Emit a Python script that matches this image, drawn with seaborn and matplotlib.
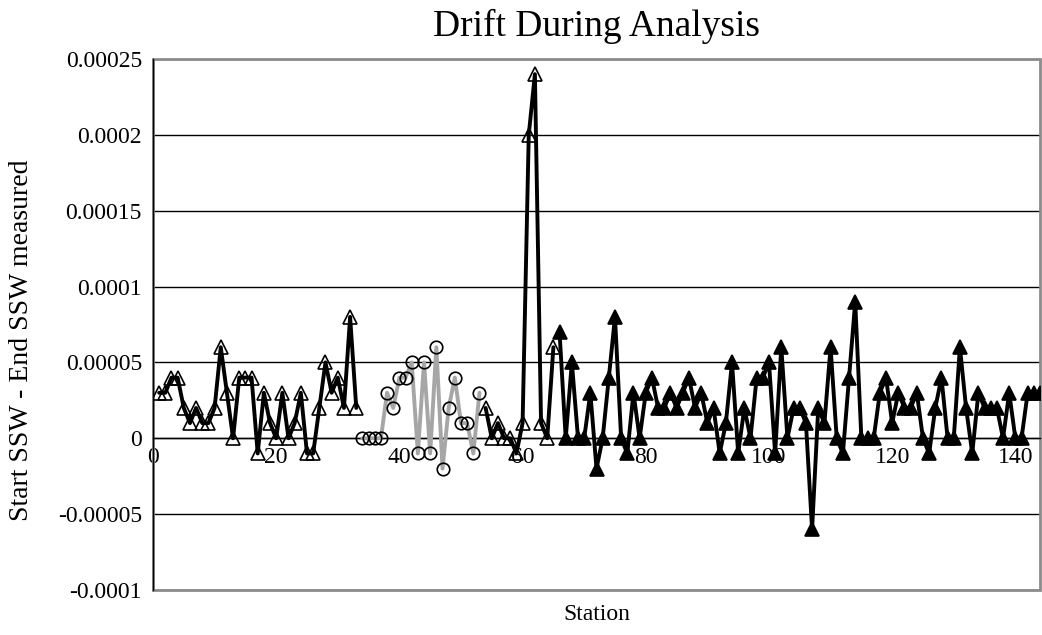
import matplotlib
matplotlib.use("Agg")
import matplotlib.pyplot as plt
import matplotlib.ticker as mticker
from matplotlib.patches import Rectangle
import pandas as pd
import seaborn as sns

# Drift readings (start SSW minus end SSW), in units of 1e-5
stations_a = list(range(1, 34))
drift_a = [3, 3, 4, 4, 2, 1, 2, 1, 1, 2, 6, 3, 0, 4, 4, 4, -1, 3, 1, 0,
           3, 0, 1, 3, -1, -1, 2, 5, 3, 4, 2, 8, 2]

stations_b = list(range(34, 54))
drift_b = [0, 0, 0, 0, 3, 2, 4, 4, 5, -1, 5, -1, 6, -2, 2, 4, 1, 1, -1, 3]

stations_c = list(range(54, 66))
drift_c = [2, 0, 1, 0, 0, -1, 1, 20, 24, 1, 0, 6]

stations_d = list(range(66, 145))
drift_d = [7, 0, 5, 0, 0, 3, -2, 0, 4, 8, 0, -1, 3, 0, 3, 4, 2, 2, 3, 2,
           3, 4, 2, 3, 1, 2, -1, 1, 5, -1, 2, 0, 4, 4, 5, -1, 6, 0, 2, 2,
           1, -6, 2, 1, 6, 0, -1, 4, 9, 0, 0, 0, 3, 4, 1, 3, 2, 2, 3, 0,
           -1, 2, 4, 0, 0, 6, 2, -1, 3, 2, 2, 2, 0, 3, 0, 0, 3, 3, 3]

x_ticks = [0, 20, 40, 60, 80, 100, 120, 140]
y_ticks = [-0.0001, -0.00005, 0, 0.00005, 0.0001, 0.00015, 0.0002, 0.00025]

SCALE = 1e-5


def frame(st, vals):
    return pd.DataFrame({"Station": st, "Drift": [v * SCALE for v in vals]})


sns.set_style("white")
plt.rcParams["font.family"] = ["Liberation Serif", "DejaVu Serif"]
plt.rcParams["text.color"] = "black"

W, H = 1042, 635
fig = plt.figure(figsize=(W / 100, H / 100), dpi=100)
left, right, top, bottom = 153, 1040, 59, 590
ax = fig.add_axes([left / W, 1 - bottom / H, (right - left) / W, (bottom - top) / H])

line_kw = dict(estimator=None, sort=False, ax=ax, legend=False)
LW, MS = 2.8, 10

# open triangles, first run
sns.lineplot(data=frame(stations_a, drift_a), x="Station", y="Drift",
             color="black", linewidth=LW, marker="^", markersize=MS,
             markerfacecolor="none", markeredgecolor="black",
             markeredgewidth=1.2, zorder=3, **line_kw)
# grey circles
sns.lineplot(data=frame(stations_b, drift_b), x="Station", y="Drift",
             color="#a6a6a6", linewidth=LW, marker="o", markersize=9,
             markerfacecolor="none", markeredgecolor="black",
             markeredgewidth=1.2, zorder=3, **line_kw)
# open triangles, second run
sns.lineplot(data=frame(stations_c, drift_c), x="Station", y="Drift",
             color="black", linewidth=LW, marker="^", markersize=MS,
             markerfacecolor="none", markeredgecolor="black",
             markeredgewidth=1.2, zorder=3, **line_kw)
# filled triangles
sns.lineplot(data=frame(stations_d, drift_d), x="Station", y="Drift",
             color="black", linewidth=LW, marker="^", markersize=MS,
             markerfacecolor="black", markeredgecolor="black",
             markeredgewidth=1.2, zorder=3, **line_kw)

ax.set_xlabel("")
ax.set_ylabel("")
ax.set_xlim(0, 144)
ax.set_ylim(-0.0001, 0.00025)
ax.set_xticks(x_ticks)
ax.set_yticks(y_ticks)


def fmt(v, pos=None):
    v = round(v, 7)
    if abs(v) < 1e-12:
        return "0"
    return f"{v:.5f}".rstrip("0").rstrip(".")


ax.yaxis.set_major_formatter(mticker.FuncFormatter(fmt))
ax.grid(axis="y", color="black", linewidth=1.0, zorder=0)
ax.grid(axis="x", visible=False)

for side in ("top", "right"):
    ax.spines[side].set_visible(False)
ax.spines["left"].set_color("black")
ax.spines["left"].set_linewidth(1.0)
ax.spines["bottom"].set_position(("data", 0))
ax.spines["bottom"].set_color("black")
ax.spines["bottom"].set_linewidth(1.0)
ax.spines["bottom"].set_zorder(2)

ax.add_patch(Rectangle((0, 0), 1, 1, transform=ax.transAxes, fill=False,
                       edgecolor="#8c8c8c", linewidth=2.0, zorder=1, clip_on=False))

ax.tick_params(axis="both", direction="out", length=4, width=1, colors="black",
               labelsize=17, labelcolor="black")
ax.tick_params(axis="x", pad=2)
ax.tick_params(axis="y", pad=4)

fig.text((left + right) / 2 / W, 1 - 26 / H, "Drift During Analysis",
         ha="center", va="center", fontsize=27, color="black")
fig.text((left + right) / 2 / W, 1 - 614 / H, "Station",
         ha="center", va="center", fontsize=17, color="black")
fig.text(22 / W, 1 - 340 / H, "Start SSW - End SSW measured",
         ha="center", va="center", rotation=90, fontsize=20, color="black")

fig.savefig("out.png", dpi=100, facecolor="white")
